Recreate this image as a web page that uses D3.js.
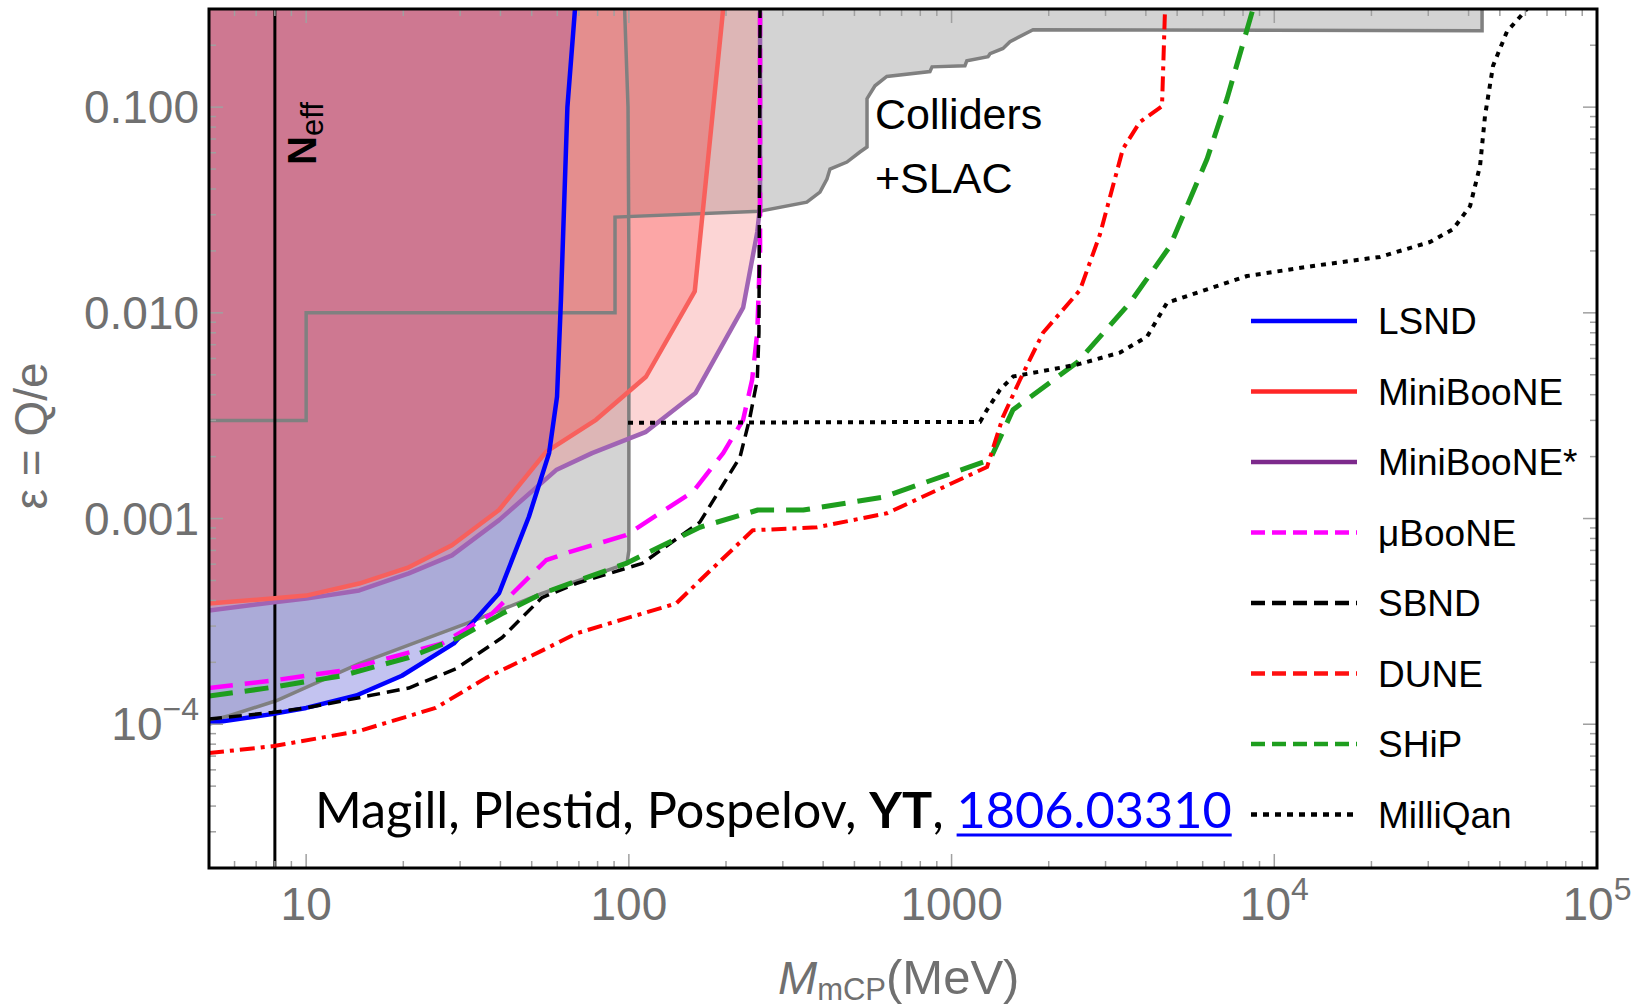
<!DOCTYPE html>
<html>
<head>
<meta charset="utf-8">
<script src="https://cdn.jsdelivr.net/npm/d3@7"></script>
<style>
  body { margin: 0; background: #fff; }
  svg text { font-family: "Liberation Sans", Arial, sans-serif; }
</style>
</head>
<body>
<svg id="chart" width="1639" height="1006"></svg>
<script>
// ---- data: [mass in MeV, epsilon] ----
const lsnd = [[5,1.01e-4],[7.83,1.12e-4],[10,1.2e-4],[14.3,1.38e-4],[19.8,1.72e-4],[28.7,2.47e-4],
  [39.6,4.33e-4],[49,1.02e-3],[56.6,2.08e-3],[59.9,3.91e-3],[61.6,0.0116],[64.5,0.1],[68.1,0.3]];
const miniboone = [[5,3.86e-4],[7.83,4.08e-4],[10,4.22e-4],[14.6,4.83e-4],[20.8,5.79e-4],[28.3,7.41e-4],
  [39.6,1.1e-3],[55.4,2.11e-3],[79.1,3.02e-3],[113,4.89e-3],[160,0.0127],[196,0.3]];
const minibooneStar = [[5,3.57e-4],[7.83,3.91e-4],[10,4.08e-4],[14.6,4.47e-4],[20.8,5.41e-4],[28.3,6.62e-4],
  [39.6,9.82e-4],[59.5,1.72e-3],[76.9,2.08e-3],[113,2.64e-3],[161,4.08e-3],[226,0.0106],[250,0.0247],
  [255,0.033],[255,0.3]];
const uboone = [[5,1.5e-4],[7.83,1.63e-4],[12.9,1.82e-4],[26.4,2.47e-4],[37.7,3.45e-4],[55.4,6.27e-4],
  [65.3,6.86e-4],[98,8.3e-4],[158,1.35e-3],[196,2.08e-3],[226,3.02e-3],[241,4.73e-3],[250,8.02e-3],
  [255,0.02],[255,0.3]];
const sbnd = [[5,1.06e-4],[7.83,1.14e-4],[10,1.2e-4],[20.8,1.5e-4],[29.1,1.86e-4],[40.5,2.64e-4],
  [53.8,4.13e-4],[68.6,4.83e-4],[110,6.05e-4],[166,9.6e-4],[221,1.99e-3],[237,3.08e-3],[250,4.73e-3],
  [253,8e-3],[255,0.3]];
const dune = [[5,7.24e-5],[7.95,7.83e-5],[14.6,9.27e-5],[25.2,1.2e-4],[36.1,1.68e-4],[53.8,2.28e-4],
  [68.6,2.76e-4],[98,3.27e-4],[140,3.86e-4],[166,5e-4],[242,8.77e-4],[383,9.07e-4],[630,1.06e-3],
  [1288,1.78e-3],[1443,3.12e-3],[1630,4.73e-3],[1920,8e-3],[2500,0.0129],[2884,0.0241],[3396,0.0627],
  [3836,0.0848],[4488,0.101],[4586,0.3]];
const ship = [[5,1.37e-4],[7.83,1.51e-4],[12.9,1.72e-4],[20.8,2.11e-4],[29.8,2.64e-4],[40.5,3.45e-4],
  [53.8,4.32e-4],[98,6.05e-4],[166,9.07e-4],[251,1.1e-3],[347,1.1e-3],[613,1.27e-3],[1316,1.93e-3],
  [1550,3.38e-3],[2448,5.73e-3],[3572,0.0112],[4753,0.0211],[6190,0.056],[7138,0.11],[8590,0.3]];
const milliqan = [[99.4,2.92e-3],[1225,2.95e-3],[1288,3.38e-3],[1413,4.23e-3],[1550,4.9e-3],[2448,5.6e-3],
  [3327,6.41e-3],[4036,7.67e-3],[4653,0.0112],[8235,0.0151],[13180,0.0169],[21270,0.0187],[30380,0.0221],
  [35800,0.0255],[40420,0.033],[43410,0.0518],[44980,0.0908],[47640,0.159],[52600,0.233],[60650,0.3]];
// colliders (steps) and SLAC (lower left) excluded regions
const colliders = [[5,0.3],[5,0.003],[10,0.003],[10,0.01],[90.6,0.01],[90.6,0.0292],[255,0.0312],
  [356,0.0345],[391,0.0386],[411,0.0447],[420,0.05],[474,0.0541],[520,0.0605],[547,0.064],[547,0.11],
  [579,0.127],[630,0.141],[857,0.149],[870,0.157],[1100,0.159],[1115,0.168],[1297,0.176],[1316,0.182],
  [1443,0.193],[1517,0.208],[1789,0.238],[44040,0.235],[44040,0.3]];
const slac = [[5,1.04e-4],[5.77,1.1e-4],[8.07,1.3e-4],[14.6,1.97e-4],[31.3,3.08e-4],[53.8,4.32e-4],
  [98.7,6.05e-4],[100,7e-4],[100,0.02],[99.4,0.1],[97,0.3]];
const neffMass = 8;

const massTicks = [10, 100, 1000, 1e4, 1e5];
const massTickLabels = [["10"], ["100"], ["1000"], ["10", "4"], ["10", "5"]];
const epsTicks = [0.1, 0.01, 0.001, 1e-4];
const epsTickLabels = [["0.100"], ["0.010"], ["0.001"], ["10", "\u22124"]];

const legendNames = ["LSND", "MiniBooNE", "MiniBooNE*", "\u03bcBooNE", "SBND", "DUNE", "SHiP", "MilliQan"];

// ---- layout ----
const W = 1639, H = 1006;
const margin = { top: 9, right: 42, bottom: 138, left: 209 };
const x = d3.scaleLog().domain([5, 1e5]).range([margin.left, W - margin.right]);
const y = d3.scaleLog().domain([2e-5, 0.3]).range([H - margin.bottom, margin.top]);
const x0 = x.range()[0], x1 = x.range()[1], yB = y.range()[0], yT = y.range()[1];
const axisGray = "#707070";

const svg = d3.select("#chart");
svg.append("defs").append("clipPath").attr("id", "plotClip")
  .append("rect").attr("x", x0).attr("y", yT).attr("width", x1 - x0).attr("height", yB - yT);

const plot = svg.append("g").attr("clip-path", "url(#plotClip)");
const line = d3.line().x(d => x(d[0])).y(d => y(d[1]));
const corner = [x.domain()[0], y.domain()[1]];
const region = pts => line(pts.concat([corner])) + "Z";

// excluded regions (opaque gray)
plot.append("path").attr("d", line(colliders) + "Z").attr("fill", "#d3d3d3");
plot.append("path").attr("d", region(slac)).attr("fill", "#d3d3d3");

// experiment regions, translucent
plot.append("path").attr("d", region(lsnd)).attr("fill", "rgb(121,121,222)").attr("fill-opacity", 0.45);
plot.append("path").attr("d", region(minibooneStar)).attr("fill", "rgb(245,115,115)").attr("fill-opacity", 0.3);
plot.append("path").attr("d", region(miniboone)).attr("fill", "rgb(255,0,0)").attr("fill-opacity", 0.22);

// gray boundaries
plot.append("path").attr("d", line(colliders.slice(1))).attr("fill", "none")
  .attr("stroke", "#808080").attr("stroke-width", 3.5);
plot.append("path").attr("d", line(slac)).attr("fill", "none")
  .attr("stroke", "#808080").attr("stroke-width", 3.5);

// N_eff line
plot.append("line").attr("x1", x(neffMass)).attr("x2", x(neffMass)).attr("y1", yT).attr("y2", yB)
  .attr("stroke", "#000").attr("stroke-width", 3);

const curves = [
  { data: minibooneStar, color: "#a064b4", w: 4.5, dash: null },
  { data: miniboone, color: "#f8605c", w: 4.5, dash: null },
  { data: lsnd, color: "#0000ff", w: 4.5, dash: null },
  { data: uboone, color: "#ff00ff", w: 4.5, dash: "24,12" },
  { data: sbnd, color: "#000000", w: 3.5, dash: "13,7" },
  { data: ship, color: "#1e9e1e", w: 5, dash: "24,12" },
  { data: dune, color: "#ff0000", w: 4, dash: "15,6,4,6" },
  { data: milliqan, color: "#000000", w: 4, dash: "5,6" }
];
curves.forEach(c => {
  plot.append("path").attr("d", line(c.data)).attr("fill", "none")
    .attr("stroke", c.color).attr("stroke-width", c.w)
    .attr("stroke-dasharray", c.dash).attr("stroke-linejoin", "round");
});

// ---- ticks (inside, all four sides) ----
function logTicks(lo, hi) {
  const out = [];
  for (let p = Math.floor(Math.log10(lo)); p <= Math.ceil(Math.log10(hi)); p++) {
    for (let k = 1; k < 10; k++) {
      const v = k * Math.pow(10, p);
      if (v >= lo * 0.999 && v <= hi * 1.001) out.push({ v: v, major: k === 1 });
    }
  }
  return out;
}
const tickG = svg.append("g").attr("stroke", "#a0a0a0").attr("stroke-width", 1.5);
logTicks(5, 1e5).forEach(t => {
  const L = t.major ? 14 : 7, px = x(t.v);
  tickG.append("line").attr("x1", px).attr("x2", px).attr("y1", yB).attr("y2", yB - L);
  tickG.append("line").attr("x1", px).attr("x2", px).attr("y1", yT).attr("y2", yT + L);
});
logTicks(2e-5, 0.3).forEach(t => {
  const L = t.major ? 14 : 7, py = y(t.v);
  tickG.append("line").attr("x1", x0).attr("x2", x0 + L).attr("y1", py).attr("y2", py);
  tickG.append("line").attr("x1", x1).attr("x2", x1 - L).attr("y1", py).attr("y2", py);
});

// frame
svg.append("rect").attr("x", x0).attr("y", yT).attr("width", x1 - x0).attr("height", yB - yT)
  .attr("fill", "none").attr("stroke", "#000").attr("stroke-width", 3);

// ---- tick labels ----
function tickText(g, parts) {
  g.append("tspan").text(parts[0]);
  if (parts[1]) g.append("tspan").attr("dy", -20).style("font-size", "32px").text(parts[1]);
}
massTicks.forEach((v, i) => {
  const t = svg.append("text").attr("x", x(v)).attr("y", 920).attr("text-anchor", "middle")
    .attr("fill", axisGray).style("font-size", "46px");
  tickText(t, massTickLabels[i]);
});
epsTicks.forEach((v, i) => {
  const t = svg.append("text").attr("x", 199).attr("y", y(v) + 16).attr("text-anchor", "end")
    .attr("fill", axisGray).style("font-size", "46px");
  tickText(t, epsTickLabels[i]);
});

// axis titles
svg.append("text").attr("transform", "translate(47,436) rotate(-90)").attr("text-anchor", "middle")
  .attr("fill", axisGray).style("font-size", "46px").text("\u03b5 = Q/e");
const xt = svg.append("text").attr("x", 778).attr("y", 994).attr("fill", axisGray).style("font-size", "47px");
xt.append("tspan").style("font-style", "italic").text("M");
xt.append("tspan").attr("dy", 6).style("font-size", "31px").text("mCP");
xt.append("tspan").attr("dy", -6).style("font-size", "49px").text("(MeV)");

// ---- in-plot labels ----
svg.append("text").attr("x", 875).attr("y", 129).style("font-size", "43px").text("Colliders");
svg.append("text").attr("x", 875).attr("y", 193).style("font-size", "43px").text("+SLAC");

const neff = svg.append("text").attr("transform", "translate(" + (x(neffMass) + 41) + ",165) rotate(-90)");
neff.append("tspan").style("font-size", "40px").style("font-weight", "bold").text("N");
neff.append("tspan").attr("dy", 7).style("font-size", "31px").text("eff");

// ---- legend ----
const legendStyle = [
  { color: "#0000ff", dash: null },
  { color: "#ff2626", dash: null },
  { color: "#7d2a8c", dash: null },
  { color: "#ff00ff", dash: "14,7" },
  { color: "#000000", dash: "14,7" },
  { color: "#ff1010", dash: "14,7" },
  { color: "#1e9e1e", dash: "14,7" },
  { color: "#000000", dash: "6,6" }
];
legendNames.forEach((name, i) => {
  const ly = 321 + i * 70.5;
  svg.append("line").attr("x1", 1251).attr("x2", 1357).attr("y1", ly).attr("y2", ly)
    .attr("stroke", legendStyle[i].color).attr("stroke-width", 4.5)
    .attr("stroke-dasharray", legendStyle[i].dash);
  svg.append("text").attr("x", 1378).attr("y", ly + 13).style("font-size", "37px").text(name);
});

// ---- citation ----
function citation(size) {
  svg.selectAll(".cite").remove();
  const t = svg.append("text").attr("class", "cite").attr("x", 315).attr("y", 828)
    .style("font-family", "Lato").style("font-size", size + "px").style("white-space", "pre");
  t.append("tspan").text("Magill, Plestid, Pospelov, ");
  t.append("tspan").style("font-weight", "bold").text("YT");
  t.append("tspan").text(", ");
  const w1 = t.node().getComputedTextLength();
  const link = svg.append("text").attr("class", "cite").attr("x", 315 + w1).attr("y", 828)
    .attr("fill", "#0000ff").style("font-family", "Lato").style("font-size", size + "px").text("1806.03310");
  const w2 = link.node().getComputedTextLength();
  svg.append("line").attr("class", "cite").attr("x1", 315 + w1).attr("x2", 315 + w1 + w2)
    .attr("y1", 835).attr("y2", 835).attr("stroke", "#0000ff").attr("stroke-width", 3);
  return w1 + w2;
}
const total = citation(49);
citation(49 * 917 / total);
</script>
</body>
</html>
